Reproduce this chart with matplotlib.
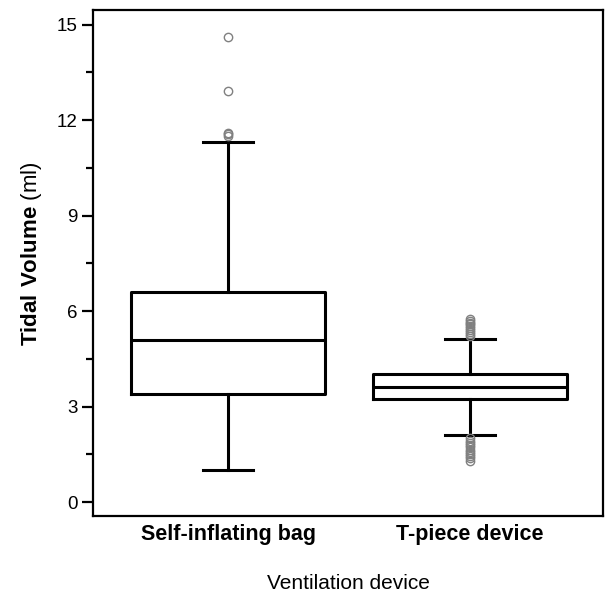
import matplotlib
matplotlib.use("Agg")
import matplotlib.pyplot as plt

plt.rcParams['font.family'] = ['Liberation Sans', 'DejaVu Sans']
plt.rcParams['mathtext.fontset'] = 'custom'
plt.rcParams['mathtext.rm'] = 'Liberation Sans'
plt.rcParams['mathtext.bf'] = 'Liberation Sans:bold'

# Box statistics
devices = ['Self-inflating bag', 'T-piece device']
q1 = [3.4, 3.25]
median = [5.1, 3.62]
q3 = [6.6, 4.02]
whisker_low = [1.0, 2.12]
whisker_high = [11.32, 5.12]
outliers = [
    [11.5, 11.55, 11.6, 12.92, 14.6],
    [5.22, 5.28, 5.34, 5.4, 5.46, 5.52, 5.58, 5.64, 5.7, 5.75,
     2.0, 1.93, 1.86, 1.79, 1.72, 1.65, 1.58, 1.51, 1.44, 1.37, 1.3],
]

stats = []
for i, name in enumerate(devices):
    stats.append({'label': name, 'q1': q1[i], 'med': median[i], 'q3': q3[i],
                  'whislo': whisker_low[i], 'whishi': whisker_high[i],
                  'fliers': outliers[i]})

fig = plt.figure(figsize=(6.08, 5.96), dpi=100)
ax = fig.add_axes([0.153, 0.1347, 0.839, 0.848])

lw = 2.2
ax.bxp(stats, positions=[1, 2], widths=0.8, capwidths=0.21,
       boxprops=dict(color='black', linewidth=lw),
       medianprops=dict(color='black', linewidth=lw),
       whiskerprops=dict(color='black', linewidth=lw),
       capprops=dict(color='black', linewidth=lw),
       flierprops=dict(marker='o', markersize=6, markerfacecolor='none',
                       markeredgecolor='#808080', markeredgewidth=1.0))

ax.set_xlim(0.442, 2.55)
ax.set_ylim(-0.43, 15.45)
ax.set_yticks([0, 3, 6, 9, 12, 15])
ax.set_yticks([1.5 * k for k in range(11)], minor=True)

for s in ax.spines.values():
    s.set_linewidth(1.6)

ax.tick_params(axis='y', which='major', length=8, width=1.6, labelsize=13.5, pad=3)
ax.tick_params(axis='y', which='minor', length=5, width=1.6)
ax.tick_params(axis='x', length=0, labelsize=15.5, pad=6)
for t in ax.get_xticklabels():
    t.set_fontweight('bold')

ax.set_ylabel(r'$\mathbf{Tidal\ Volume}$ (ml)', fontsize=16)
ax.yaxis.set_label_coords(-0.097, 0.518)
ax.set_xlabel('Ventilation device', fontsize=15, labelpad=21)

fig.savefig('out.png', dpi=100)
